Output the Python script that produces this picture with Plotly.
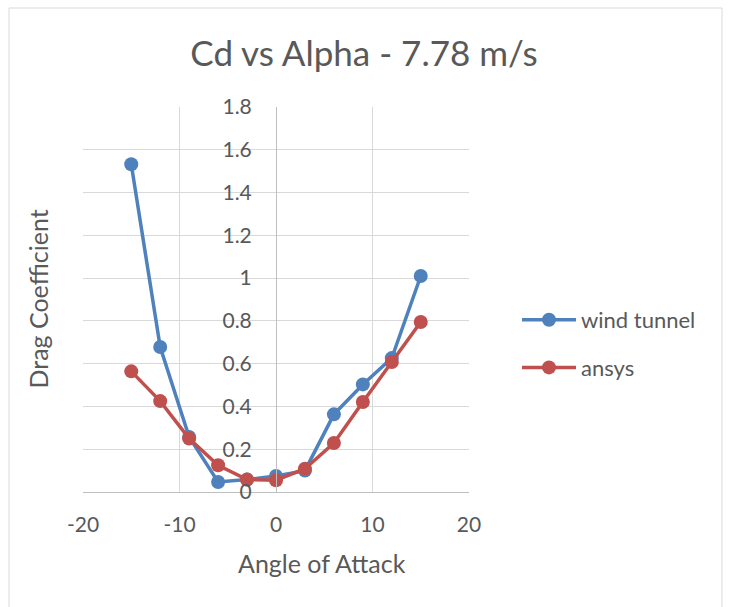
import plotly.graph_objects as go

# Angle of attack (degrees) and drag coefficients
angle = [-15, -12, -9, -6, -3, 0, 3, 6, 9, 12, 15]
cd_wind_tunnel = [1.532, 0.678, 0.257, 0.047, 0.058, 0.075, 0.100, 0.363, 0.503, 0.626, 1.010]
cd_ansys = [0.564, 0.425, 0.250, 0.125, 0.058, 0.055, 0.109, 0.229, 0.421, 0.608, 0.795]

x_ticks = [-20, -10, 0, 10, 20]
x_tick_text = ["-20", "-10", "0", "10", "20"]
y_ticks = [0, 0.2, 0.4, 0.6, 0.8, 1.0, 1.2, 1.4, 1.6, 1.8]
y_tick_text = ["0", "0.2", "0.4", "0.6", "0.8", "1", "1.2", "1.4", "1.6", "1.8"]

FONT = "Lato, Open Sans, sans-serif"
TEXT = "#595959"
GRID = "#d9d9d9"
AXIS = "#bfbfbf"

# plot area in pixels
L, R, T, B = 83, 262, 107, 115
PW, PH = 731 - L - R, 607 - T - B

fig = go.Figure()
fig.add_trace(go.Scatter(
    x=angle, y=cd_wind_tunnel, name="wind tunnel", mode="lines+markers",
    legendgroup="wt",
    line=dict(color="#4f81bd", width=3.5),
    marker=dict(color="#4f81bd", size=14),
))
fig.add_trace(go.Scatter(
    x=angle, y=cd_ansys, name="ansys", mode="lines+markers",
    legendgroup="an",
    line=dict(color="#c0504d", width=3.5),
    marker=dict(color="#c0504d", size=14),
))

fig.update_layout(
    width=731, height=607,
    margin=dict(l=L, r=R, t=T, b=B),
    paper_bgcolor="white", plot_bgcolor="white",
    font=dict(family=FONT, color=TEXT, size=21),
    title=dict(text="Cd vs Alpha - 7.78 m/s", x=364 / 731, xref="container",
               xanchor="center",
               y=1 - 54 / 607, yanchor="middle", yref="container",
               font=dict(size=35, color=TEXT, family=FONT)),
    xaxis=dict(
        range=[-20, 20], tickvals=x_ticks, ticktext=x_tick_text,
        showgrid=True, gridcolor=GRID, gridwidth=1,
        zeroline=False, showline=True, linecolor=AXIS, linewidth=1,
        ticks="", ticklabelstandoff=14,
        tickfont=dict(size=21, color=TEXT),
    ),
    yaxis=dict(
        range=[0, 1.8], tickvals=y_ticks, ticktext=y_tick_text,
        showgrid=True, gridcolor=GRID, gridwidth=1,
        zeroline=False, showline=True, linecolor=AXIS, linewidth=1,
        anchor="free", position=0.5, ticks="", ticklabelstandoff=20,
        tickfont=dict(size=21, color=TEXT),
    ),
    legend=dict(
        x=(517 - L) / PW, xanchor="left",
        y=(607 - B - 344) / PH, yanchor="middle",
        font=dict(size=22, color=TEXT), itemwidth=54,
        tracegroupgap=16, bgcolor="rgba(0,0,0,0)",
    ),
    annotations=[
        dict(text="Drag Coefficient", textangle=-90, showarrow=False,
             xref="paper", yref="paper", x=-(L - 37) / PW, y=0.5,
             xanchor="center", yanchor="middle",
             font=dict(size=25, color=TEXT, family=FONT)),
        dict(text="Angle of Attack", showarrow=False,
             xref="paper", yref="paper", x=(322 - L) / PW,
             y=-(563 - (607 - B)) / PH,
             xanchor="center", yanchor="middle",
             font=dict(size=25, color=TEXT, family=FONT)),
    ],
    shapes=[dict(
        type="rect", xref="paper", yref="paper",
        x0=-(L - 9) / PW, x1=1 + (722 - (731 - R)) / PW,
        y0=-(640 - (607 - B)) / PH, y1=1 + (T - 8) / PH,
        line=dict(color=GRID, width=1), fillcolor="rgba(0,0,0,0)", layer="below",
    )],
)

fig.write_html("out.html")
